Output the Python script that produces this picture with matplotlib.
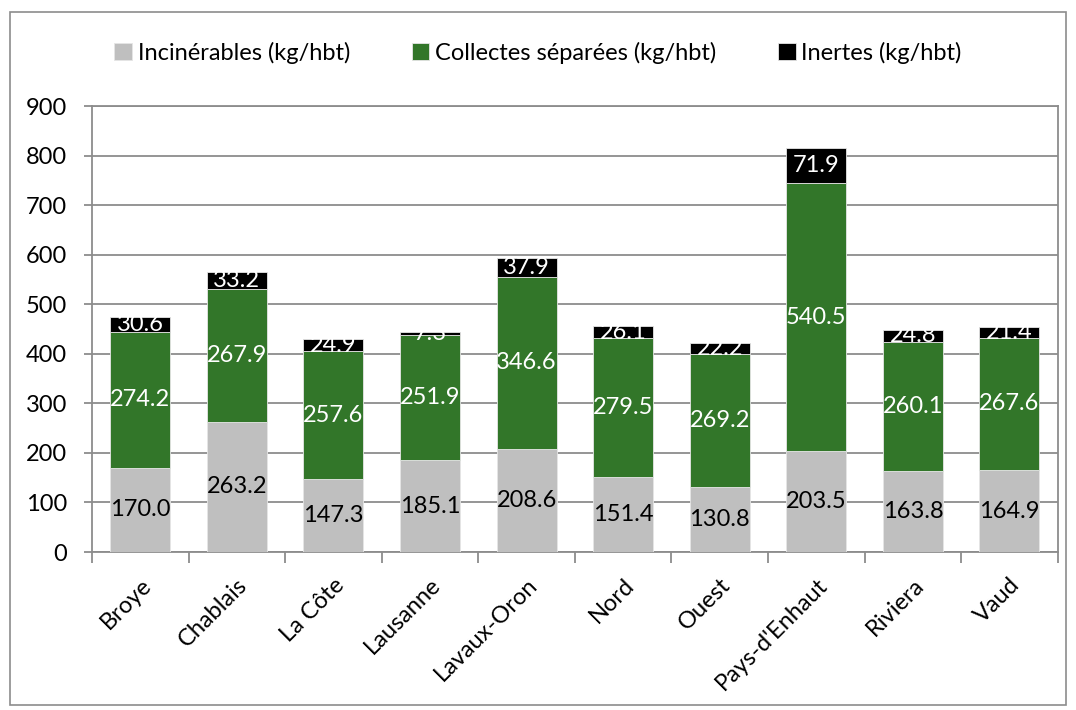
import numpy as np
import matplotlib
matplotlib.use('Agg')
import matplotlib.pyplot as plt
from matplotlib.patches import Rectangle

plt.rcParams['font.family'] = ['Lato', 'DejaVu Sans']

regions = ['Broye', 'Chablais', 'La Côte', 'Lausanne', 'Lavaux-Oron',
           'Nord', 'Ouest', "Pays-d'Enhaut", 'Riviera', 'Vaud']
incinerables = [170.0, 263.2, 147.3, 185.1, 208.6, 151.4, 130.8, 203.5, 163.8, 164.9]
collectes = [274.2, 267.9, 257.6, 251.9, 346.6, 279.5, 269.2, 540.5, 260.1, 267.6]
inertes = [30.6, 33.2, 24.9, 7.3, 37.9, 26.1, 22.2, 71.9, 24.8, 21.4]

grey = '#bfbfbf'
green = '#327629'
black = '#000000'
axis_col = '#8c8c8c'
fs = 17

fig = plt.figure(figsize=(10.76, 7.10), dpi=100)
ax = fig.add_axes([0.0855, 0.2225, 0.8975, 0.6282])

# outer chart border
fig.patches.append(Rectangle((0.0095, 0.007), 0.981, 0.976, transform=fig.transFigure,
                             fill=False, edgecolor=axis_col, linewidth=1.2))

x = np.arange(len(regions))
w = 0.62
inc = np.array(incinerables)
col = np.array(collectes)
ine = np.array(inertes)

b1 = ax.bar(x, inc, w, color=grey, edgecolor='#e6e6e6', linewidth=0.6,
            label='Incinérables (kg/hbt)', zorder=3)
b2 = ax.bar(x, col, w, bottom=inc, color=green, edgecolor='#e6e6e6', linewidth=0.6,
            label='Collectes séparées (kg/hbt)', zorder=3)
b3 = ax.bar(x, ine, w, bottom=inc + col, color=black, edgecolor='#e6e6e6', linewidth=0.6,
            label='Inertes (kg/hbt)', zorder=3)

for bars, vals, c in [(b1, inc, 'black'), (b2, col, 'white'), (b3, ine, 'white')]:
    ax.bar_label(bars, labels=['%.1f' % v for v in vals], label_type='center',
                 color=c, fontsize=fs, zorder=4)

ax.set_ylim(0, 900)
ax.set_xlim(-0.5, len(regions) - 0.5)
ax.set_yticks(range(0, 901, 100))
ax.yaxis.grid(True, color=axis_col, linewidth=1.3, zorder=0)
ax.set_axisbelow(True)
for s in ax.spines.values():
    s.set_color(axis_col)
    s.set_linewidth(1.3)
ax.tick_params(axis='y', labelsize=fs, length=6, width=1.3, color=axis_col, pad=12)

ax.set_xticks(x)
ax.set_xticklabels(regions, rotation=45, ha='right', rotation_mode='anchor', fontsize=fs)
ax.tick_params(axis='x', length=0, pad=16)
ax.set_xticks(np.arange(-0.5, len(regions), 1), minor=True)
ax.tick_params(axis='x', which='minor', length=8, width=1.3, color=axis_col)

fig.legend(handles=[b1, b2, b3], loc='center', bbox_to_anchor=(0.5, 0.926), ncol=3,
           frameon=False, fontsize=fs, handlelength=0.75, handleheight=0.75,
           handletextpad=0.25, columnspacing=2.6)

fig.savefig('out.png', dpi=100)
